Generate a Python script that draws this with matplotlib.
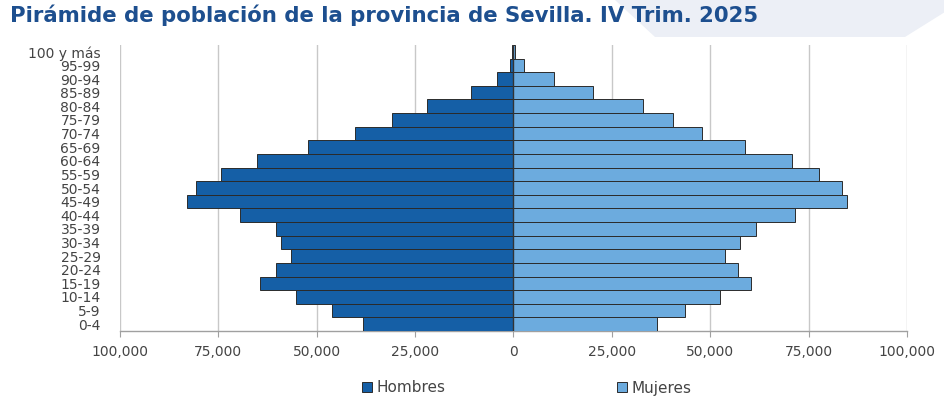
import matplotlib
matplotlib.use("Agg")
import matplotlib.pyplot as plt
from matplotlib.patches import Polygon, Patch
from matplotlib.ticker import FuncFormatter

age_groups = ["0-4", "5-9", "10-14", "15-19", "20-24", "25-29", "30-34", "35-39",
              "40-44", "45-49", "50-54", "55-59", "60-64", "65-69", "70-74", "75-79",
              "80-84", "85-89", "90-94", "95-99", "100 y más"]
hombres = [38300, 46100, 55200, 64300, 60400, 56500, 59100, 60400,
           69500, 83100, 80800, 74300, 65200, 52100, 40400, 30800,
           22000, 10700, 4300, 850, 300]
mujeres = [36400, 43700, 52500, 60300, 57100, 53700, 57600, 61600,
           71500, 84700, 83400, 77700, 70800, 58900, 48000, 40600,
           32800, 20100, 10400, 2600, 500]
xticks = [-100000, -75000, -50000, -25000, 0, 25000, 50000, 75000, 100000]
title = "Pirámide de población de la provincia de Sevilla. IV Trim. 2025"

c_h = "#155fa6"
c_m = "#6cabde"
edge = "#2b2b2b"

plt.rcParams['font.family'] = ['DejaVu Sans']
fig = plt.figure(figsize=(9.45, 4.0), dpi=100)

# decorative background shape top-right
bg = Polygon([(615/945, 1.0), (655/945, 1 - 37/400), (905/945, 1 - 37/400),
              (945/945, 1 - 12/400), (945/945, 1.0)],
             closed=True, transform=fig.transFigure, facecolor="#eceff6",
             edgecolor="none", zorder=0)
fig.patches.append(bg)

fig.text(10/945, 1 - 15/400, title, fontsize=15.3, fontweight="bold",
         color="#1d4f8f", ha="left", va="center")

ax = fig.add_axes([120/945, 1 - 331/400, (907 - 120)/945, (331 - 45)/400])
y = list(range(len(age_groups)))
ax.barh(y, [-v for v in hombres], height=1.0, color=c_h, edgecolor=edge,
        linewidth=0.7, zorder=3)
ax.barh(y, mujeres, height=1.0, color=c_m, edgecolor=edge,
        linewidth=0.7, zorder=3)
ax.axvline(0, color="#333333", lw=1.0, zorder=4)

ax.set_xlim(-100000, 100000)
ax.set_ylim(-0.5, len(age_groups) - 0.5)
ax.set_xticks(xticks)
ax.xaxis.set_major_formatter(FuncFormatter(lambda v, p: f"{abs(int(v)):,}"))
ax.set_yticks(y)
ax.set_yticklabels(age_groups)
ax.grid(axis="x", color="#c8c8c8", lw=1.0, zorder=0)
ax.set_axisbelow(True)
for s in ["top", "right", "left"]:
    ax.spines[s].set_visible(False)
ax.spines["bottom"].set_color("#a0a0a0")
ax.spines["bottom"].set_linewidth(1.0)
ax.tick_params(axis="x", colors="#a0a0a0", labelcolor="#444444", labelsize=10,
               length=4, pad=6)
ax.tick_params(axis="y", length=0, labelcolor="#444444", labelsize=10, pad=14)

handles = [Patch(facecolor=c_h, edgecolor=edge, lw=0.7, label="Hombres"),
           Patch(facecolor=c_m, edgecolor=edge, lw=0.7, label="Mujeres")]
fig.legend(handles=handles, loc="center", bbox_to_anchor=(527/945, 1 - 388/400),
           ncol=2, frameon=False, fontsize=11, handlelength=0.65, handleheight=0.65,
           handletextpad=0.3, columnspacing=11.2, labelcolor="#444444")

fig.savefig("out.png", dpi=100)
